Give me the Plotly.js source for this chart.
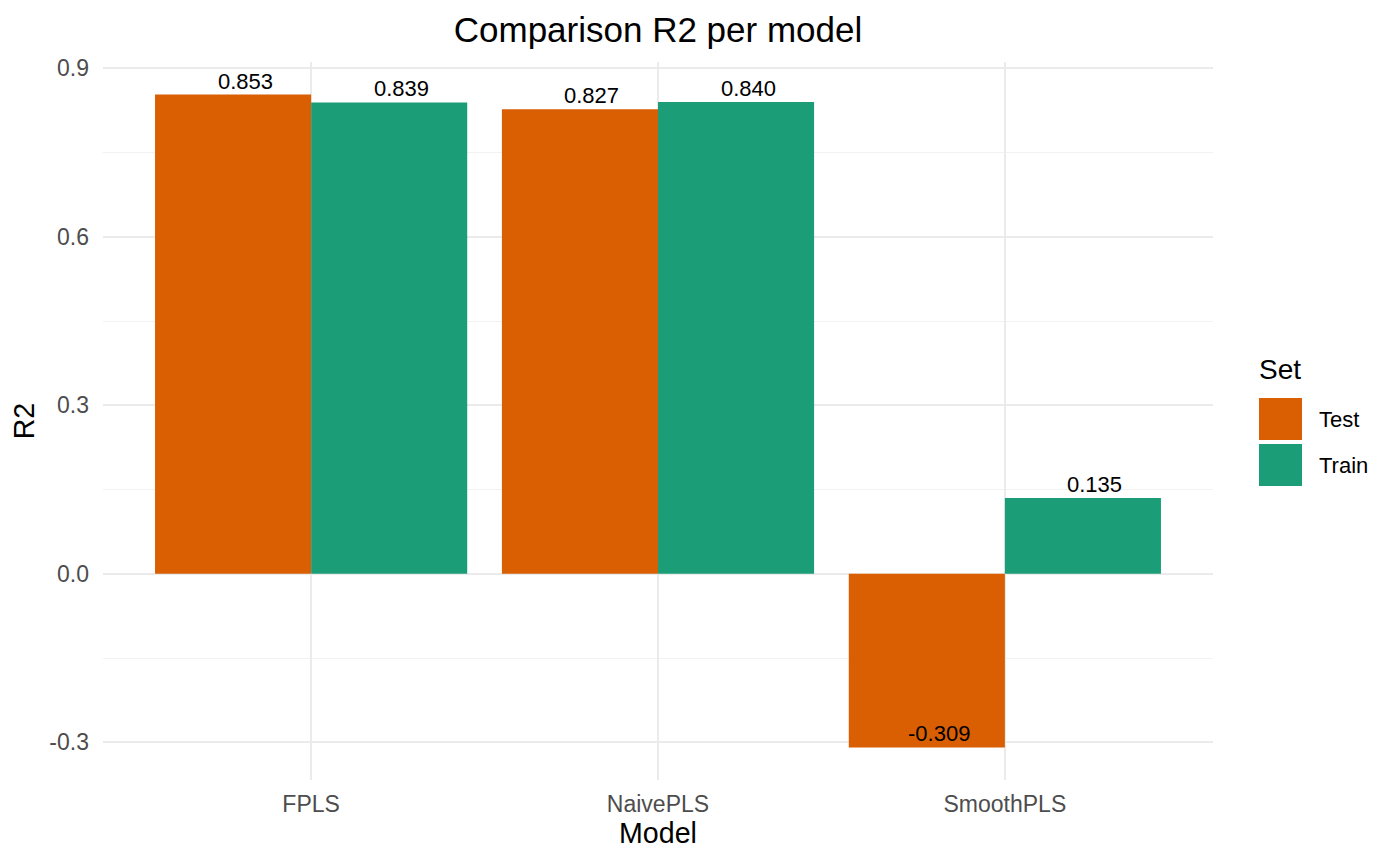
<!DOCTYPE html>
<html>
<head>
<meta charset="utf-8">
<script src="https://cdn.plot.ly/plotly-3.0.1.min.js"></script>
<style>html,body{margin:0;padding:0;background:#fff;}#chart{width:1400px;height:865px;}</style>
</head>
<body>
<div id="chart"></div>
<script>
const models = ["FPLS", "NaivePLS", "SmoothPLS"];
const setNames = ["Test", "Train"];
const setColors = ["#D95F02", "#1B9E77"];
const testR2 = [0.853, 0.827, -0.309];
const trainR2 = [0.839, 0.840, 0.135];
const yTickVals = [-0.3, 0, 0.3, 0.6, 0.9];
const yTickText = ["-0.3", "0.0", "0.3", "0.6", "0.9"];

const seriesValues = [testR2, trainR2];
const font = "Liberation Sans, Arial, sans-serif";

const traces = seriesValues.map((vals, k) => ({
  type: "bar",
  name: setNames[k],
  x: models,
  y: vals,
  marker: {color: setColors[k], line: {width: 0}},
  showlegend: false,
  hoverinfo: "x+y+name"
}));

const annotations = [];
seriesValues.forEach((vals, k) => {
  const off = k === 0 ? -0.225 : 0.225;
  vals.forEach((v, i) => {
    annotations.push({
      x: i + off, y: v, xref: "x", yref: "y",
      text: v.toFixed(3), showarrow: false,
      yanchor: "bottom", yshift: -1, xshift: 12,
      font: {family: font, size: 22, color: "#000"}
    });
  });
});

// legend (drawn in paper coordinates)
const px = x => (x - 103) / 1110;
const py = y => (780 - y) / 718;
annotations.push({
  xref: "paper", yref: "paper", x: px(1257), y: py(369), xanchor: "left", yanchor: "middle",
  text: "Set", showarrow: false, font: {family: font, size: 28, color: "#000"}
});
const shapes = [];
setNames.forEach((n, k) => {
  const top = 398 + k * 46;
  shapes.push({
    type: "rect", xref: "paper", yref: "paper",
    x0: px(1259), x1: px(1302),
    y0: py(top + 42), y1: py(top),
    fillcolor: setColors[k], line: {width: 0}
  });
  annotations.push({
    xref: "paper", yref: "paper",
    x: px(1317), y: py(top + 21),
    xanchor: "left", yanchor: "middle", text: n, showarrow: false,
    font: {family: font, size: 22, color: "#000"}
  });
});

const layout = {
  width: 1400, height: 865,
  margin: {l: 103, r: 187, t: 62, b: 85},
  paper_bgcolor: "#fff", plot_bgcolor: "#fff",
  barmode: "group", bargap: 0.1, bargroupgap: 0,
  title: {text: "Comparison R2 per model", x: 0.47, xanchor: "center", y: 0.966, yanchor: "middle",
          font: {family: font, size: 35, color: "#000"}},
  xaxis: {
    type: "category", range: [-0.6, 2.6], showgrid: true, gridcolor: "#EBEBEB", gridwidth: 2,
    zeroline: false, showline: false, ticks: "", ticklen: 0, ticklabelstandoff: 8,
    tickfont: {family: font, size: 23, color: "#4D4D4D"},
    title: {text: "Model", font: {family: font, size: 28.6, color: "#000"}, standoff: 6}
  },
  yaxis: {
    range: [-0.367, 0.911], tickvals: yTickVals, ticktext: yTickText,
    showgrid: true, gridcolor: "#EBEBEB", gridwidth: 2, zeroline: false, showline: false,
    ticks: "", ticklabelstandoff: 13, tickfont: {family: font, size: 23, color: "#4D4D4D"},
    minor: {showgrid: true, gridcolor: "#F2F2F2", gridwidth: 1, tickvals: [-0.15, 0.15, 0.45, 0.75]},
    title: {text: "R2", font: {family: font, size: 28.6, color: "#000"}, standoff: 6}
  },
  annotations: annotations,
  shapes: shapes
};

Plotly.newPlot("chart", traces, layout, {displayModeBar: false, staticPlot: true});
</script>
</body>
</html>
